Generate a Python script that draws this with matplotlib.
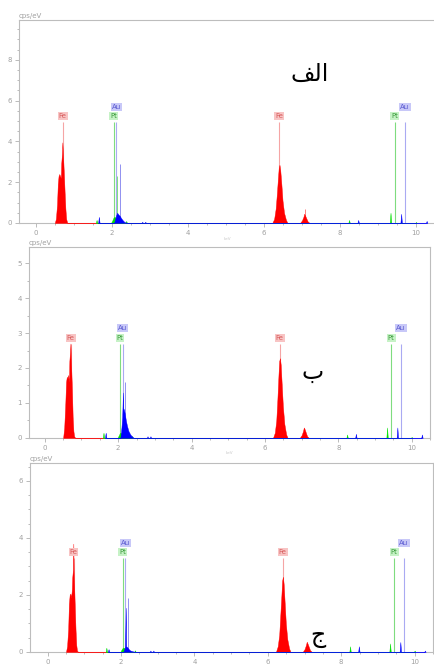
# EDS spectra of the three samples, stacked vertically
import matplotlib
matplotlib.use('Agg')
import matplotlib.pyplot as plt
import numpy as np

# --- spectrum data (energy in keV, counts in cps/eV) ---
# red trace: Fe L, Fe Ka, Fe Kb
feEnergy = [0.50, 0.53, 0.56, 0.58, 0.60, 0.62, 0.64, 0.66, 0.67, 0.69, 0.70, 0.71, 0.72, 0.74, 0.76, 0.78, 0.80, 0.83,
            6.22, 6.27, 6.31, 6.34, 6.37, 6.39, 6.41, 6.43, 6.46, 6.49, 6.53, 6.58, 6.62,
            6.95, 7.00, 7.04, 7.06, 7.08, 7.11, 7.15, 7.20]
feCounts = [
    [0, 0.2, 0.9, 1.9, 2.3, 2.4, 2.3, 2.2, 2.9, 3.4, 3.95, 3.6, 3.2, 2.4, 1.5, 0.7, 0.2, 0,
     0, 0.2, 0.7, 1.4, 2.2, 2.7, 2.85, 2.6, 1.9, 1.1, 0.5, 0.15, 0,
     0, 0.12, 0.3, 0.45, 0.38, 0.25, 0.08, 0],
    [0, 0.3, 1.0, 1.6, 1.75, 1.7, 1.8, 1.6, 2.2, 2.5, 2.7, 2.3, 2.0, 1.4, 0.6, 0.2, 0.05, 0,
     0, 0.15, 0.5, 1.1, 1.8, 2.2, 2.28, 2.1, 1.5, 0.9, 0.4, 0.1, 0,
     0, 0.08, 0.2, 0.3, 0.26, 0.17, 0.05, 0],
    [0, 0.2, 0.8, 1.7, 2.0, 2.05, 1.9, 2.2, 2.6, 2.9, 3.8, 2.8, 2.4, 1.6, 0.8, 0.25, 0.05, 0,
     0, 0.2, 0.6, 1.3, 2.0, 2.5, 2.64, 2.4, 1.7, 1.0, 0.45, 0.12, 0,
     0, 0.1, 0.25, 0.36, 0.3, 0.2, 0.06, 0],
]

# blue trace: Au M hump plus small Au lines
auEnergy = [1.64, 1.66, 1.68,
            2.06, 2.09, 2.11, 2.13, 2.14, 2.16, 2.18, 2.21, 2.24, 2.28, 2.33, 2.38, 2.43,
            2.78, 2.80, 2.82, 2.86, 2.88, 2.90,
            8.46, 8.48, 8.50, 9.59, 9.61, 9.63, 10.26, 10.28, 10.30]
auCounts = [
    [0, 0.3, 0,
     0, 0.2, 0.35, 0.45, 0.5, 0.45, 0.4, 0.35, 0.25, 0.15, 0.05, 0.02, 0,
     0, 0.06, 0, 0, 0.06, 0,
     0, 0.15, 0, 0, 0.45, 0, 0, 0.1, 0],
    [0, 0.15, 0,
     0, 0.3, 0.6, 1.3, 0.85, 0.8, 0.7, 0.5, 0.35, 0.2, 0.1, 0.04, 0,
     0, 0.05, 0, 0, 0.05, 0,
     0, 0.12, 0, 0, 0.3, 0, 0, 0.1, 0],
    [0, 0.1, 0,
     0, 0.1, 0.2, 1.55, 0.2, 0.18, 0.15, 0.1, 0.06, 0.04, 0.02, 0.01, 0,
     0, 0.05, 0, 0, 0.05, 0,
     0, 0.2, 0, 0, 0.35, 0, 0, 0.05, 0],
]

# green trace: Pt M hump plus small Pt lines
ptEnergy = [1.58, 1.60, 1.62,
            1.98, 2.02, 2.05, 2.08, 2.11, 2.14, 2.18,
            2.36, 2.38, 2.40,
            8.22, 8.24, 8.26, 9.31, 9.33, 9.35, 9.98, 10.00, 10.02]
ptCounts = [
    [0, 0.15, 0, 0, 0.15, 0.28, 0.3, 0.2, 0.12, 0, 0, 0.1, 0, 0, 0.15, 0, 0, 0.5, 0, 0, 0.05, 0],
    [0, 0.15, 0, 0, 0.08, 0.15, 0.14, 0.1, 0.05, 0, 0, 0.06, 0, 0, 0.1, 0, 0, 0.3, 0, 0, 0.03, 0],
    [0, 0.15, 0, 0, 0.1, 0.15, 0.15, 0.1, 0.05, 0, 0, 0.06, 0, 0, 0.2, 0, 0, 0.3, 0, 0, 0.05, 0],
]

# faint single-channel spikes drawn in light colours (energy, height)
spikeBlue = [(2.21, 2.9), (2.20, 1.6), (2.18, 1.9)]
spikeGreen = [(2.14, 2.3), None, None]
spikeRed = [(7.07, 0.7), None, None]

# element marker lines
elements = ['Fe', 'Fe', 'Pt', 'Pt', 'Au', 'Au']
elementEnergy = [0.705, 6.40, 2.05, 9.44, 2.12, 9.71]
markerHeight = [4.95, 2.7, 3.3]

# panel titles
panelTitles = ['\uFED2\uFEDF\u0627', '\u0628', '\u062C']
titlePos = [(7.2, 7.3), (7.3, 1.9), (7.35, 0.55)]

yMax = [9.95, 5.46, 6.63]
yMajor = [np.arange(0, 9, 2), np.arange(0, 6, 1), np.arange(0, 7, 2)]
xRange = [(-0.44, 10.36), (-0.43, 10.27), (-0.48, 10.33)]
showUnit = [True, True, False]

# axes rectangles in figure fraction
axRects = [[0.0437, 0.6642, 0.9563, 0.3057],
           [0.0667, 0.3404, 0.9218, 0.2877],
           [0.0690, 0.0181, 0.9264, 0.2846]]

markerColor = {'Fe': '#f5a5a5', 'Pt': '#7fdc7f', 'Au': '#aaaaf2'}
boxColor = {'Fe': '#f8c4c4', 'Pt': '#c6f2c6', 'Au': '#c8c8f8'}
textColor = {'Fe': '#d65a5a', 'Pt': '#3a9a3a', 'Au': '#5a5ad0'}
gray = '#a0a0a0'

fig = plt.figure(figsize=(4.35, 6.64), dpi=100)

for i in range(3):
    ax = fig.add_axes(axRects[i])

    # element marker lines and their labels
    for el, en in zip(elements, elementEnergy):
        h = markerHeight[i]
        ax.vlines(en, 0, h, color=markerColor[el], linewidth=0.8, zorder=1)
        dy = 11 if el == 'Au' else 4
        ax.annotate(el, (en, h), xytext=(0, dy), textcoords='offset points',
                    ha='center', va='center', fontsize=5, color=textColor[el],
                    bbox=dict(boxstyle='square,pad=0.15', fc=boxColor[el], ec='none'),
                    zorder=5)

    # faint spikes
    for spikes, col in [(spikeBlue, '#9090f0'), (spikeGreen, '#80e080'), (spikeRed, '#ff8080')]:
        if spikes[i] is not None:
            ax.vlines(spikes[i][0], 0, spikes[i][1], color=col, linewidth=0.7, zorder=2)

    # filled spectrum traces
    ax.fill_between(feEnergy, feCounts[i], 0, color='#ff0000', linewidth=0.3, zorder=3)
    ax.fill_between(ptEnergy, ptCounts[i], 0, color='#00e000', linewidth=0.3, zorder=3)
    ax.fill_between(auEnergy, auCounts[i], 0, color='#0000ff', linewidth=0.3, zorder=4)

    ax.set_xlim(xRange[i])
    ax.set_ylim(0, yMax[i])
    ax.set_xticks(np.arange(0, 11, 2))
    ax.set_xticks(np.arange(0, 10.6, 0.5), minor=True)
    ax.set_yticks(yMajor[i])
    ax.set_yticks(np.arange(0, yMax[i], 0.5), minor=True)
    ax.tick_params(which='both', colors=gray, labelsize=5, direction='out', width=0.5)
    ax.tick_params(which='major', length=3, pad=2)
    ax.tick_params(which='minor', length=1.5)
    for s in ax.spines.values():
        s.set_color('#bdbdbd')
        s.set_linewidth(0.8)

    # units
    ax.text(0.0, 1.005, 'cps/eV', transform=ax.transAxes, fontsize=5,
            color=gray, ha='left', va='bottom')
    if showUnit[i]:
        ax.text(0.5, -0.07, 'keV', transform=ax.transAxes, fontsize=3,
                color='#c8c8c8', ha='center', va='top')

    # panel letter
    ax.text(titlePos[i][0], titlePos[i][1], panelTitles[i], fontsize=17,
            family=['DejaVu Sans'], color='black', ha='center', va='center', zorder=6)

fig.savefig('out.png', dpi=100)
